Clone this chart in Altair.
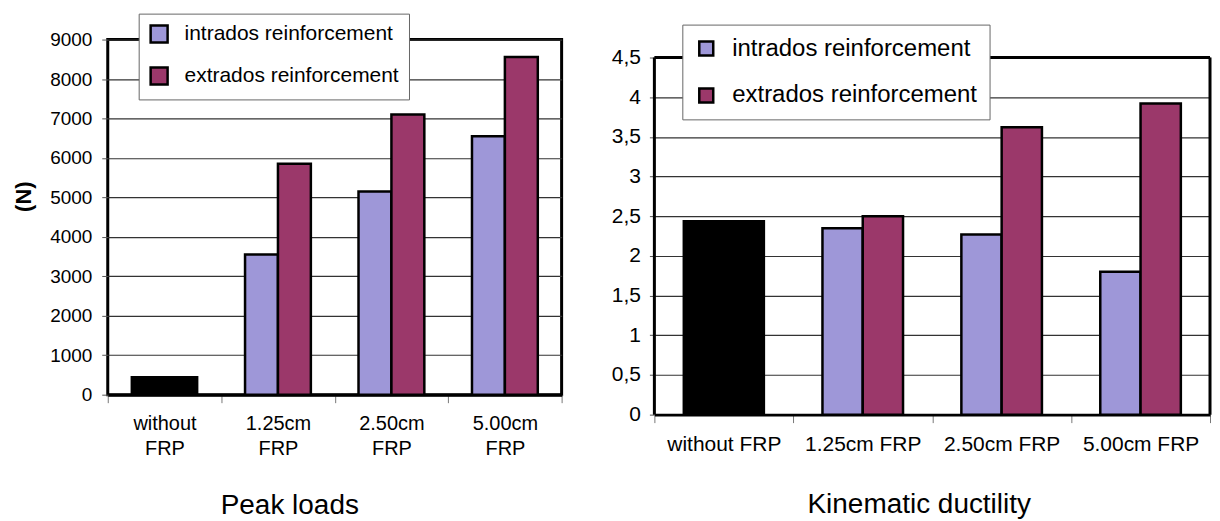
import altair as alt
import pandas as pd

FONT = "Liberation Sans"

categories = ["without FRP", "1.25cm FRP", "2.50cm FRP", "5.00cm FRP"]
series = ["intrados reinforcement", "extrados reinforcement"]
series_colors = ["#9E97D8", "#9B386A"]

# Peak loads (N)
peak_without = [450]
peak_intrados = [3550, 5150, 6550]
peak_extrados = [5850, 7100, 8560]
peak_ticks = [0, 1000, 2000, 3000, 4000, 5000, 6000, 7000, 8000, 9000]

# Kinematic ductility
duct_without = [2.44]
duct_intrados = [2.35, 2.27, 1.80]
duct_extrados = [2.50, 3.62, 3.92]
duct_ticks = [0, 0.5, 1, 1.5, 2, 2.5, 3, 3.5, 4, 4.5]


def grouped_df(intr, extr):
    rows = []
    for cat, a, b in zip(categories[1:], intr, extr):
        rows.append({"category": cat, "series": series[0], "value": a})
        rows.append({"category": cat, "series": series[1], "value": b})
    return pd.DataFrame(rows)


BAND = 0.58
OFF_PAD = (2 / BAND - 2) / 2


def make_panel(without, intr, extr, ydom_max, xaxis, yaxis, legend):
    x_enc = alt.X("category:N", sort=categories,
                  scale=alt.Scale(domain=categories, paddingInner=0, paddingOuter=0),
                  axis=xaxis)
    y_enc = alt.Y("value:Q", scale=alt.Scale(domain=[0, ydom_max], nice=False, zero=True), axis=yaxis)
    black = alt.Chart(pd.DataFrame({"category": [categories[0]], "value": without})).mark_bar(
        color="black", stroke="black", strokeWidth=2, width=alt.RelativeBandSize(BAND)
    ).encode(x=x_enc, y=y_enc)
    bars = alt.Chart(grouped_df(intr, extr)).mark_bar(stroke="black", strokeWidth=2.5).encode(
        x=x_enc,
        xOffset=alt.XOffset("series:N", sort=series,
                            scale=alt.Scale(domain=series, paddingInner=0, paddingOuter=OFF_PAD)),
        y=y_enc,
        color=alt.Color("series:N", sort=series,
                        scale=alt.Scale(domain=series, range=series_colors), legend=legend),
    )
    return black, bars


# ---------- left panel ----------
WL, HL = 455, 356
xaxis_l = alt.Axis(title=None, labelAngle=0, labelExpr="split(datum.label, ' ')", labelLineHeight=25,
                   labelFontSize=20, labelFont=FONT, labelColor="black", tickBand="extent", tickSize=8,
                   tickColor="#777", tickWidth=1, labelPadding=11, domainColor="black", domainWidth=3,
                   grid=False)
yaxis_l = alt.Axis(values=peak_ticks, format="d", title="(N)", titleFont=FONT, titleFontSize=22,
                   titleFontWeight="bold", titleColor="black", titleAngle=270, titleX=-84, titleY=157,
                   titleAlign="center", titleBaseline="middle", labelFont=FONT, labelFontSize=19,
                   labelColor="black", labelPadding=10, tickSize=6, tickColor="#555", domain=False,
                   grid=True, gridColor="#333", gridWidth=1.2)
legend_l = alt.Legend(title=None, orient="none", legendX=31, legendY=-26, direction="vertical",
                      fillColor="white", strokeColor="#666", padding=10, symbolType="square",
                      symbolSize=289, symbolStrokeColor="black", symbolStrokeWidth=2.5,
                      labelFont=FONT, labelFontSize=21, labelColor="black", labelOffset=15,
                      rowPadding=15, labelLimit=500, labelExpr="datum.label + '    '", symbolOpacity=1)
bl, gl = make_panel(peak_without, peak_intrados, peak_extrados, 9000, xaxis_l, yaxis_l, legend_l)
left = alt.layer(bl, gl).properties(
    width=WL, height=HL,
    view=alt.ViewBackground(stroke="black", strokeWidth=3),
    title=alt.TitleParams("Peak loads", orient="bottom", anchor="middle", dx=-45, offset=34,
                          fontSize=28, font=FONT, fontWeight="normal", color="black"),
)

# ---------- right panel ----------
WR, HR = 557, 376
EXTRA = 18  # right frame starts lower than the left one
ydom_r = 4.5 * HR / (HR - EXTRA)
xaxis_r = alt.Axis(title=None, labelAngle=0, labelFontSize=21, labelFont=FONT, labelColor="black",
                   tickBand="extent", tickSize=8, tickColor="#777", tickWidth=1, labelPadding=11,
                   domainColor="black", domainWidth=3, grid=False, labelLimit=300)
yaxis_r = alt.Axis(values=duct_ticks, labelExpr="replace(format(datum.value, '~g'), '.', ',')",
                   title=None, labelFont=FONT, labelFontSize=21, labelColor="black", labelPadding=9,
                   tickSize=5, tickColor="#555", domain=False, grid=True, gridColor="#333", gridWidth=1.2)
legend_r = alt.Legend(title=None, orient="none", legendX=28, legendY=-15, direction="vertical",
                      fillColor="white", strokeColor="#666", padding=12, symbolType="square",
                      symbolSize=196, symbolStrokeColor="black", symbolStrokeWidth=2.5,
                      labelFont=FONT, labelFontSize=24, labelColor="black", labelOffset=14,
                      rowPadding=23, labelLimit=500, labelExpr="datum.label + '  '", symbolOpacity=1)
br, gr = make_panel(duct_without, duct_intrados, duct_extrados, ydom_r, xaxis_r, yaxis_r, legend_r)
frame_df = pd.DataFrame({"frame_bottom": [duct_ticks[0]], "frame_top": [duct_ticks[-1]]})
frame_top = alt.Chart(frame_df).mark_rule(color="black", strokeWidth=3).encode(
    y=alt.Y("frame_top:Q"), x=alt.value(0), x2=alt.value(WR))
frame_l = alt.Chart(frame_df).mark_rule(color="black", strokeWidth=3).encode(
    x=alt.value(0), y=alt.Y("frame_bottom:Q"), y2=alt.Y2("frame_top"))
frame_r = alt.Chart(frame_df).mark_rule(color="black", strokeWidth=3).encode(
    x=alt.value(WR), y=alt.Y("frame_bottom:Q"), y2=alt.Y2("frame_top"))
right = alt.layer(br, gr, frame_top, frame_l, frame_r).properties(
    width=WR, height=HR,
    view=alt.ViewBackground(stroke="transparent"),
    title=alt.TitleParams("Kinematic ductility", orient="bottom", anchor="middle", dx=-13, offset=37,
                          fontSize=28, font=FONT, fontWeight="normal", color="black"),
)

chart = alt.hconcat(left, right, spacing=93, bounds="flush").resolve_scale(
    color="independent", xOffset="independent"
).resolve_legend(color="independent").properties(
    padding={"left": 3, "top": 3, "right": 0, "bottom": 0}
).configure(font=FONT).configure_view(stroke="transparent")

chart.save("out.html", embed_options={"renderer": "svg", "actions": False})
